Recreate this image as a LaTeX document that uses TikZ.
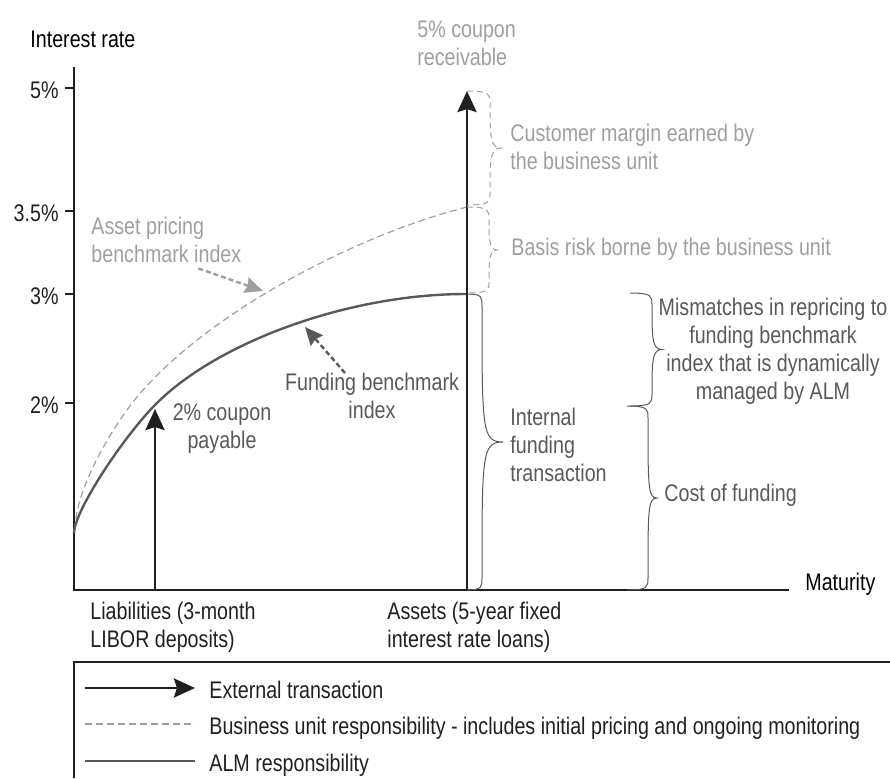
\documentclass[tikz,border=0pt]{standalone}
\usepackage{fontspec}
\setmainfont{Liberation Sans}[FakeStretch=0.82]
\usetikzlibrary{arrows.meta,positioning}

\definecolor{axisblack}{HTML}{231F20}
\definecolor{almgray}{HTML}{58595B}
\definecolor{bugray}{HTML}{9D9FA2}

\tikzset{
  axisline/.style={line width=1.4pt,axisblack},
  extarrow/.style={line width=1.4pt,axisblack,-{Stealth[length=10.5pt,width=9.5pt,inset=1.5pt]}},
  almcurve/.style={line width=1.2pt,almgray},
  bucurve/.style={line width=0.6pt,bugray,dash pattern=on 3.5pt off 2pt},
  pointer/.style={line width=1.2pt,dash pattern=on 2.5pt off 1.5pt,-{Stealth[length=9pt,width=8pt,inset=1pt]}},
  bubrace/.style={line width=0.5pt,bugray,dash pattern=on 3pt off 2pt},
  almbrace/.style={line width=0.5pt,almgray},
  lbl/.style={inner sep=0pt,align=left,anchor=north west},
}

% right-pointing brace: [style] x, top, bottom, side offset, tip offset
\newcommand{\sidebrace}[6][]{%
  \draw[#1] (#2,#3) .. controls ({#2+#5},{#3}) and ({#2+#5},{#3+3}) .. ({#2+#5},{#3+12})
    .. controls ({#2+#5},{(#3+#4)/2-12}) and ({#2+#5},{(#3+#4)/2}) .. ({#2+#6},{(#3+#4)/2})
    .. controls ({#2+#5},{(#3+#4)/2}) and ({#2+#5},{(#3+#4)/2+12}) .. ({#2+#5},{#4-12})
    .. controls ({#2+#5},{#4-3}) and ({#2+#5},{#4}) .. (#2,#4);}

\begin{document}
\begin{tikzpicture}[x=0.5pt,y=-0.5pt,font=\fontsize{12}{14}\selectfont]
  \useasboundingbox (0,0) rectangle (890,778);

  % axes and ticks
  \draw[axisline] (74,67) -- (74,590) -- (789,590);
  \foreach \yy/\tick in {88/5\%,211/3.5\%,294/3\%,403/2\%}
    \draw[axisline] (74,\yy) -- (65,\yy) node[anchor=east,inner sep=0pt,xshift=-2.5pt,yshift=-1pt] (tick\yy) {\tick};
  \node[lbl] (yname) at (30,31) {Interest rate};
  \node[lbl] (xname) at (805,573) {Maturity};

  % benchmark curves
  \draw[bucurve] (75,530) .. controls (75,490) and (112,427) .. (137,397)
    .. controls (207,313) and (357,234.5) .. (467,207);
  \draw[almcurve] (74,533) .. controls (74,513) and (118,444) .. (153,407)
    .. controls (213,344) and (346,294) .. (466,294);

  % external transactions
  \coordinate (liabfoot) at (155,590);
  \coordinate (liabtip) at (155,409);
  \coordinate (assetfoot) at (467,590);
  \coordinate (assettip) at (467,91);
  \draw[extarrow] (liabfoot) -- (liabtip);
  \draw[extarrow] (assetfoot) -- (assettip);

  % braces
  \sidebrace[bubrace]{467}{91}{205}{23}{34}
  \sidebrace[bubrace]{467}{207}{293}{22}{30}
  \sidebrace[almbrace]{467}{294}{590}{15}{36}
  \sidebrace[almbrace]{630}{293}{406}{22}{32}
  \sidebrace[almbrace]{627}{406}{590}{21}{30}

  % labels
  \node[lbl,bugray] (coupon5) at (417,20) {5\% coupon\\receivable};
  \node[lbl,bugray] (margin) at (510,124) {Customer margin earned by\\the business unit};
  \node[lbl,bugray] (basis) at (511,238) {Basis risk borne by the business unit};
  \node[lbl,bugray] (assetlbl) at (91,217) {Asset pricing\\benchmark index};
  \node[lbl,almgray,align=center,anchor=north] (mismatch) at (773,298)
    {Mismatches in repricing to\\funding benchmark\\index that is dynamically\\managed by ALM};
  \node[lbl,almgray] (internal) at (510,408) {Internal\\funding\\transaction};
  \node[lbl,almgray] (cost) at (664,484) {Cost of funding};
  \node[lbl,almgray,align=center,anchor=north] (fundlbl) at (372,373) {Funding benchmark\\index};
  \node[lbl,almgray,align=center,anchor=north] (coupon2) at (222,403) {2\% coupon\\payable};
  \node[lbl,axisblack] (liablbl) at (90,602) {Liabilities (3-month\\LIBOR deposits)};
  \node[lbl,axisblack] (assetslbl) at (387,602) {Assets (5-year fixed\\interest rate loans)};

  % pointers
  \coordinate (assetpt) at (263,291);
  \coordinate (fundpt) at (305,327);
  \draw[pointer,bugray] ([shift={(32,5)}]assetlbl.south) -- (assetpt);
  \draw[pointer,almgray] ([xshift=-13.5pt]fundlbl.north) -- (fundpt);

  % legend
  \draw[line width=1pt,axisblack] (890,662) -- (74,662) -- (74,778);
  \node[inner sep=0pt,anchor=base west,axisblack] (lgext) at (209,698) {External transaction};
  \node[inner sep=0pt,anchor=base west,axisblack] (lgbu) at (209,734) {Business unit responsibility - includes initial pricing and ongoing monitoring};
  \node[inner sep=0pt,anchor=base west,axisblack] (lgalm) at (209,771) {ALM responsibility};
  \draw[extarrow] ([shift={(-62pt,5pt)}]lgext.base west) -- ([shift={(-7pt,5pt)}]lgext.base west);
  \draw[bucurve,line width=0.9pt] ([shift={(-62pt,5pt)}]lgbu.base west) -- ([shift={(-7pt,5pt)}]lgbu.base west);
  \draw[almcurve] ([shift={(-62pt,5pt)}]lgalm.base west) -- ([shift={(-7pt,5pt)}]lgalm.base west);
\end{tikzpicture}
\end{document}
